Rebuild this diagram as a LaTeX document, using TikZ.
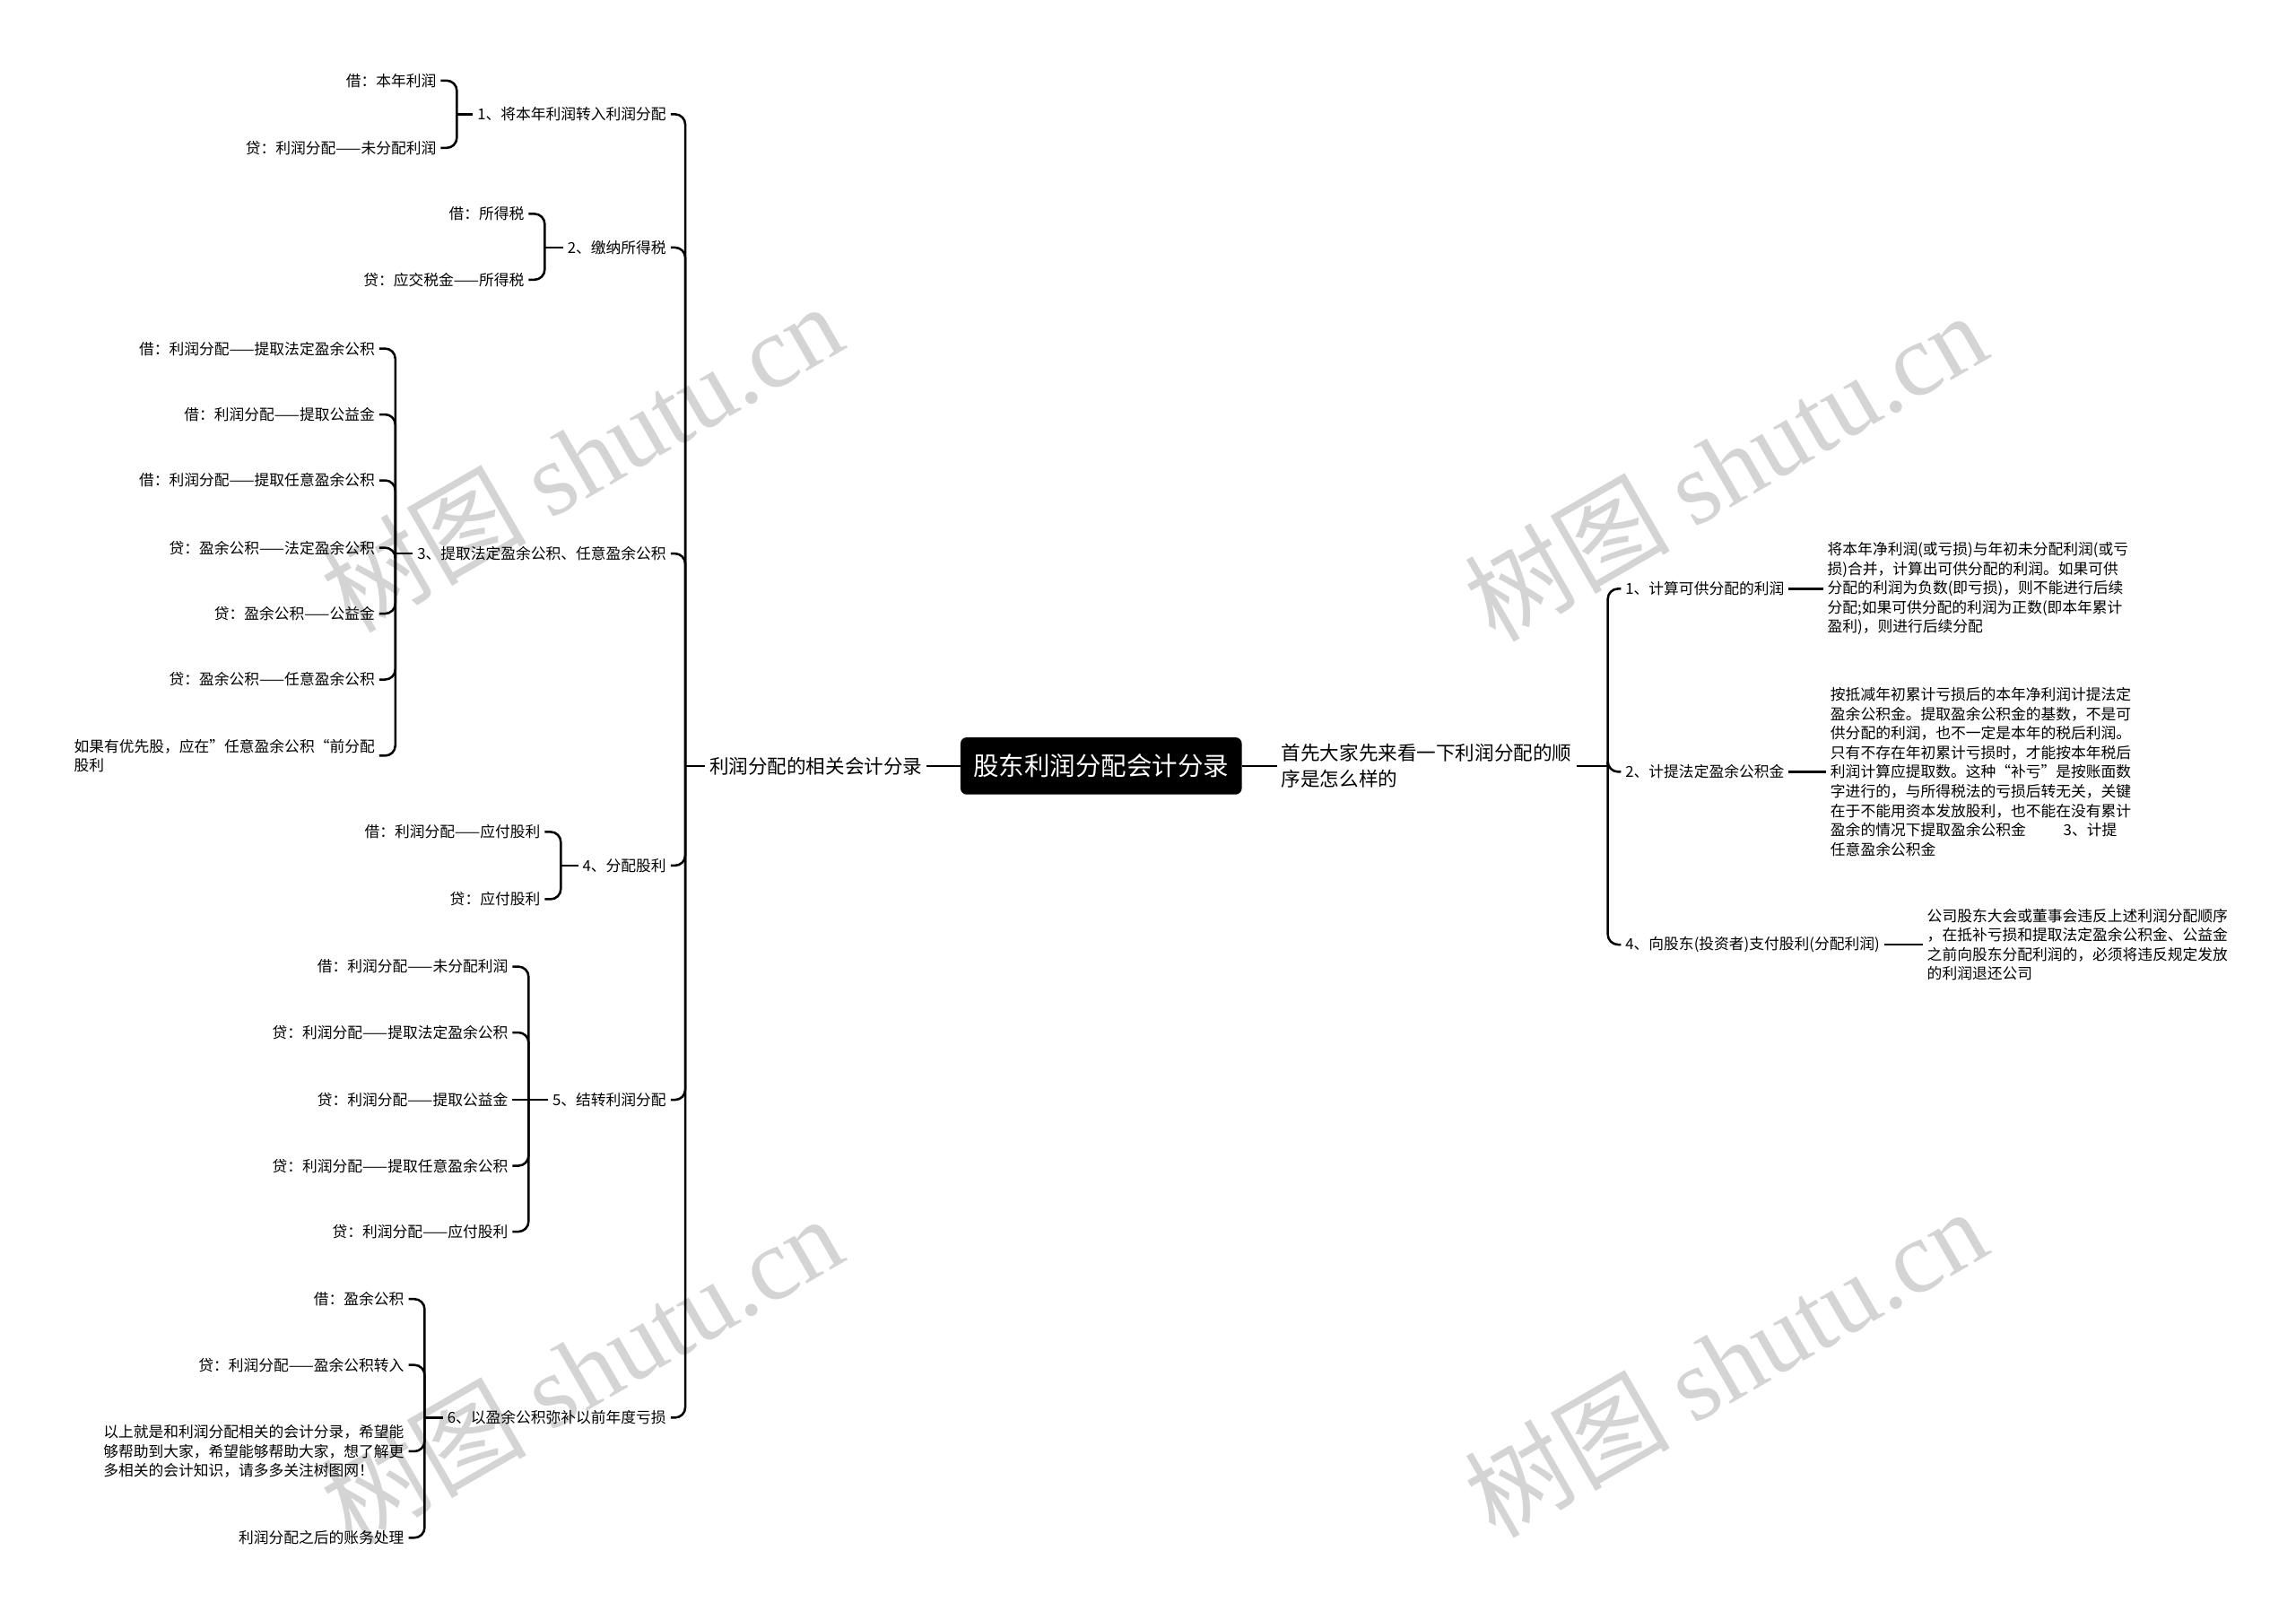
\documentclass[tikz,border=0pt]{standalone}
\usepackage{fontspec}
\setmainfont{Noto Sans CJK SC}
\newfontfamily\wmlatin{Liberation Serif}
\newfontfamily\wmcjk{Noto Sans CJK SC}
\begin{document}
\begin{tikzpicture}[x=0.025cm,y=-0.025cm,
	feuille/.style={inner sep=2pt,align=left,font=\fontsize{7.3}{9.4}\selectfont},
	branche/.style={inner sep=2pt,align=left,font=\fontsize{9.4}{12.8}\selectfont},
	racine/.style={fill=black,text=white,rounded corners=3pt,minimum width=4.8cm,minimum height=0.975cm,font=\fontsize{12.4}{14}\selectfont},
	lien/.style={line width=1.1pt,rounded corners=5pt},
	filigrane/.style={text=black!17,rotate=30,font=\fontsize{50}{50}\selectfont}]
		%fond
		\fill[white] (0,0) rectangle (1568,1106);
		\useasboundingbox (0,0) rectangle (1568,1106);
		%filigranes
		\node[filigrane] (wm1) at (397,312) {{\wmcjk 树图} {\wmlatin shutu.cn}};
		\node[filigrane] (wm2) at (1178,318) {{\wmcjk 树图} {\wmlatin shutu.cn}};
		\node[filigrane] (wm3) at (397,935) {{\wmcjk 树图} {\wmlatin shutu.cn}};
		\node[filigrane] (wm4) at (1178,930) {{\wmcjk 树图} {\wmlatin shutu.cn}};
		%racine
		\node[racine] (root) at (752,523) {股东利润分配会计分录};
		%gauche
		\node[branche,anchor=east] (gauche) at (633,523) {利润分配的相关会计分录};
		\coordinate (sg) at (468,523);
		\draw[lien] (root.west) -- (gauche.east);
		\draw[lien] (gauche.west) -- (sg);
		\node[feuille,anchor=east] (p1) at (458,78) {1、将本年利润转入利润分配};
		\node[feuille,anchor=east] (p2) at (458,169) {2、缴纳所得税};
		\node[feuille,anchor=east] (p3) at (458,378) {3、提取法定盈余公积、任意盈余公积};
		\node[feuille,anchor=east] (p4) at (458,591) {4、分配股利};
		\node[feuille,anchor=east] (p5) at (458,751) {5、结转利润分配};
		\node[feuille,anchor=east] (p6) at (458,968) {6、以盈余公积弥补以前年度亏损};
		\draw[lien] (sg) |- (p1.east);
		\draw[lien] (sg) |- (p2.east);
		\draw[lien] (sg) |- (p3.east);
		\draw[lien] (sg) |- (p4.east);
		\draw[lien] (sg) |- (p5.east);
		\draw[lien] (sg) |- (p6.east);
		%groupe 1
		\coordinate (b1) at (312,78);
		\node[feuille,anchor=east] (c11) at (301,55) {借：本年利润};
		\node[feuille,anchor=east] (c12) at (301,101) {贷：利润分配——未分配利润};
		\draw[lien] (p1.west) -- (b1);
		\draw[lien] (b1) |- (c11.east);
		\draw[lien] (b1) |- (c12.east);
		%groupe 2
		\coordinate (b2) at (372,169);
		\node[feuille,anchor=east] (c21) at (361,146) {借：所得税};
		\node[feuille,anchor=east] (c22) at (361,191) {贷：应交税金——所得税};
		\draw[lien] (p2.west) -- (b2);
		\draw[lien] (b2) |- (c21.east);
		\draw[lien] (b2) |- (c22.east);
		%groupe 3
		\coordinate (b3) at (270,378);
		\node[feuille,anchor=east] (c31) at (259,238) {借：利润分配——提取法定盈余公积};
		\node[feuille,anchor=east] (c32) at (259,283) {借：利润分配——提取公益金};
		\node[feuille,anchor=east] (c33) at (259,328) {借：利润分配——提取任意盈余公积};
		\node[feuille,anchor=east] (c34) at (259,374) {贷：盈余公积——法定盈余公积};
		\node[feuille,anchor=east] (c35) at (259,419) {贷：盈余公积——公益金};
		\node[feuille,anchor=east] (c36) at (259,464) {贷：盈余公积——任意盈余公积};
		\node[feuille,anchor=east] (c37) at (259,516) {如果有优先股，应在”任意盈余公积“前分配\\股利};
		\draw[lien] (p3.west) -- (b3);
		\draw[lien] (b3) |- (c31.east);
		\draw[lien] (b3) |- (c32.east);
		\draw[lien] (b3) |- (c33.east);
		\draw[lien] (b3) |- (c34.east);
		\draw[lien] (b3) |- (c35.east);
		\draw[lien] (b3) |- (c36.east);
		\draw[lien] (b3) |- (c37.east);
		%groupe 4
		\coordinate (b4) at (383,591);
		\node[feuille,anchor=east] (c41) at (372,568) {借：利润分配——应付股利};
		\node[feuille,anchor=east] (c42) at (372,614) {贷：应付股利};
		\draw[lien] (p4.west) -- (b4);
		\draw[lien] (b4) |- (c41.east);
		\draw[lien] (b4) |- (c42.east);
		%groupe 5
		\coordinate (b5) at (361,751);
		\node[feuille,anchor=east] (c51) at (350,660) {借：利润分配——未分配利润};
		\node[feuille,anchor=east] (c52) at (350,705) {贷：利润分配——提取法定盈余公积};
		\node[feuille,anchor=east] (c53) at (350,751) {贷：利润分配——提取公益金};
		\node[feuille,anchor=east] (c54) at (350,796) {贷：利润分配——提取任意盈余公积};
		\node[feuille,anchor=east] (c55) at (350,841) {贷：利润分配——应付股利};
		\draw[lien] (p5.west) -- (b5);
		\draw[lien] (b5) |- (c51.east);
		\draw[lien] (b5) |- (c52.east);
		\draw[lien] (b5) -- (c53.east);
		\draw[lien] (b5) |- (c54.east);
		\draw[lien] (b5) |- (c55.east);
		%groupe 6
		\coordinate (b6) at (290,968);
		\node[feuille,anchor=east] (c61) at (279,887) {借：盈余公积};
		\node[feuille,anchor=east] (c62) at (279,932) {贷：利润分配——盈余公积转入};
		\node[feuille,anchor=east] (c63) at (279,991) {以上就是和利润分配相关的会计分录，希望能\\够帮助到大家，希望能够帮助大家，想了解更\\多相关的会计知识，请多多关注树图网！};
		\node[feuille,anchor=east] (c64) at (279,1050) {利润分配之后的账务处理};
		\draw[lien] (p6.west) -- (b6);
		\draw[lien] (b6) |- (c61.east);
		\draw[lien] (b6) |- (c62.east);
		\draw[lien] (b6) |- (c63.east);
		\draw[lien] (b6) |- (c64.east);
		%droite
		\node[branche,anchor=west] (droite) at (872,523) {首先大家先来看一下利润分配的顺\\序是怎么样的};
		\coordinate (sd) at (1098,523);
		\draw[lien] (root.east) -- (droite.west);
		\draw[lien] (droite.east) -- (sd);
		\node[feuille,anchor=west] (q1) at (1107,402) {1、计算可供分配的利润};
		\node[feuille,anchor=west] (q2) at (1107,527) {2、计提法定盈余公积金};
		\node[feuille,anchor=west] (q3) at (1107,645) {4、向股东(投资者)支付股利(分配利润)};
		\draw[lien] (sd) |- (q1.west);
		\draw[lien] (sd) |- (q2.west);
		\draw[lien] (sd) |- (q3.west);
		\node[feuille,anchor=west] (d1) at (1245,402) {将本年净利润(或亏损)与年初未分配利润(或亏\\损)合并，计算出可供分配的利润。如果可供\\分配的利润为负数(即亏损)，则不能进行后续\\分配;如果可供分配的利润为正数(即本年累计\\盈利)，则进行后续分配};
		\node[feuille,anchor=west] (d2) at (1247,527) {按抵减年初累计亏损后的本年净利润计提法定\\盈余公积金。提取盈余公积金的基数，不是可\\供分配的利润，也不一定是本年的税后利润。\\只有不存在年初累计亏损时，才能按本年税后\\利润计算应提取数。这种“补亏”是按账面数\\字进行的，与所得税法的亏损后转无关，关键\\在于不能用资本发放股利，也不能在没有累计\\盈余的情况下提取盈余公积金\hspace{2.5em}3、计提\\任意盈余公积金};
		\node[feuille,anchor=west] (d3) at (1313,645) {公司股东大会或董事会违反上述利润分配顺序\\，在抵补亏损和提取法定盈余公积金、公益金\\之前向股东分配利润的，必须将违反规定发放\\的利润退还公司};
		\draw[lien] (q1.east) -- (d1.west);
		\draw[lien] (q2.east) -- (d2.west);
		\draw[lien] (q3.east) -- (d3.west);
	\end{tikzpicture}
\end{document}
